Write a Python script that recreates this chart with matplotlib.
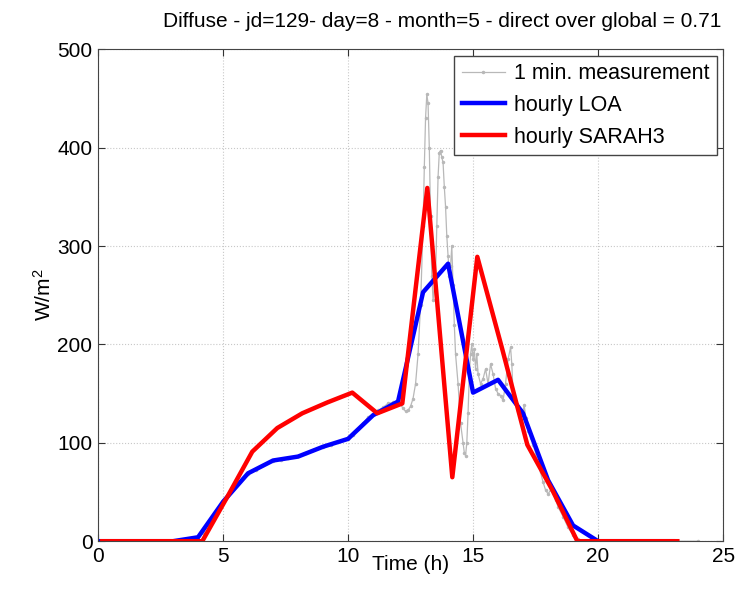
import matplotlib
matplotlib.use("Agg")
import matplotlib.pyplot as plt

plt.rcParams['font.family'] = ['Liberation Sans', 'DejaVu Sans']
plt.rcParams['mathtext.default'] = 'regular'

t_meas = [0.0, 1.0, 2.0, 3.0, 3.5, 4.0, 4.2, 4.4, 4.6, 4.8, 5.0, 5.2, 5.4, 5.6, 5.8,
          6.0, 6.3, 6.6, 7.0, 7.3, 7.6, 8.0, 8.3, 8.6, 9.0, 9.3, 9.6, 10.0, 10.2, 10.4,
          10.6, 10.8, 11.0, 11.2, 11.4, 11.6, 11.8, 12.0, 12.1, 12.2, 12.3, 12.4, 12.5,
          12.6, 12.7, 12.8, 12.9, 13.0, 13.05, 13.1, 13.15, 13.2, 13.25, 13.3, 13.35,
          13.4, 13.5, 13.55, 13.6, 13.65, 13.7, 13.75, 13.8, 13.85, 13.9, 13.95, 14.0,
          14.05, 14.1, 14.15, 14.2, 14.25, 14.3, 14.4, 14.5, 14.6, 14.65, 14.7, 14.75,
          14.8, 14.85, 14.9, 14.95, 15.0, 15.05, 15.1, 15.15, 15.2, 15.3, 15.4, 15.5,
          15.6, 15.7, 15.8, 15.9, 16.0, 16.1, 16.2, 16.3, 16.4, 16.5, 16.55, 16.6, 16.7,
          16.8, 16.9, 17.0, 17.05, 17.1, 17.2, 17.3, 17.4, 17.5, 17.6, 17.7, 17.8, 17.9,
          18.0, 18.1, 18.2, 18.3, 18.4, 18.6, 18.8, 19.0, 19.2, 19.4, 20.0, 21.0, 22.0,
          23.0, 24.0]
v_meas = [0, 0, 0, 0, 0, 2, 8, 17, 26, 34, 42, 48, 54, 59, 64,
          68, 72, 77, 82, 83, 85, 87, 90, 93, 96, 98, 101, 104, 108, 114,
          120, 126, 129, 133, 136, 140, 141, 142, 139, 135, 132, 133, 137,
          145, 160, 190, 240, 320, 380, 430, 454, 445, 400, 330, 270,
          245, 270, 320, 370, 395, 397, 390, 385, 360, 340, 310, 290,
          270, 280, 300, 260, 220, 190, 160, 120, 100, 90, 87, 100,
          130, 170, 190, 200, 185, 195, 175, 190, 170, 160, 165, 175,
          160, 180, 170, 155, 150, 148, 143, 160, 185, 197, 180, 150, 140,
          132, 130, 133, 138, 125, 112, 105, 98, 90, 80, 70, 60, 52,
          48, 52, 50, 42, 35, 25, 14, 6, 2, 0, 0, 0, 0,
          0, 0]

# hourly values
t_loa = list(range(24))
v_loa = [0, 0, 0, 0, 4, 40, 69, 82, 86, 96, 104, 128, 142, 253, 282, 151, 164, 130,
         62, 16, 0, 0, 0, 0]
t_sarah = [h + 0.17 for h in range(24)]
v_sarah = [0, 0, 0, 0, 0, 45, 91, 115, 130, 141, 151, 130, 140, 359, 65, 289, 195, 98,
           52, 0, 0, 0, 0, 0]

fig = plt.figure(figsize=(7.54, 6.0), dpi=100)
ax = fig.add_axes([0.130, 0.098, 0.829, 0.820])

ax.plot(t_meas, v_meas, color='#b8b8b8', lw=0.9, marker='.', markersize=3,
        label='1 min. measurement')
ax.plot(t_loa, v_loa, color='#0000ff', lw=3.2, label='hourly LOA')
ax.plot(t_sarah, v_sarah, color='#ff0000', lw=3.2, label='hourly SARAH3')

ax.set_xlim(0, 25)
ax.set_ylim(0, 500)
ax.set_xticks([0, 5, 10, 15, 20, 25])
ax.set_yticks([0, 100, 200, 300, 400, 500])
ax.grid(True, linestyle=':', color='#c8c8c8', lw=0.8)
ax.tick_params(direction='in', top=True, right=True, labelsize=15, length=5,
               color='#333333', pad=4)
for s in ax.spines.values():
    s.set_color('#444444')

ax.set_xlabel('Time (h)', fontsize=15, labelpad=-8)
ax.set_ylabel('W/m$^2$', fontsize=15, labelpad=2)
ax.set_title('Diffuse - jd=129- day=8 - month=5 - direct over global = 0.71',
             fontsize=15, pad=16, x=0.55)

leg = ax.legend(loc='upper right', fontsize=15.5, fancybox=False, framealpha=1,
                edgecolor='#444444', borderaxespad=0.3, handlelength=2.0,
                handletextpad=0.4, labelspacing=0.5, borderpad=0.35)
leg.get_frame().set_linewidth(1.0)

fig.savefig('out.png', dpi=100)
